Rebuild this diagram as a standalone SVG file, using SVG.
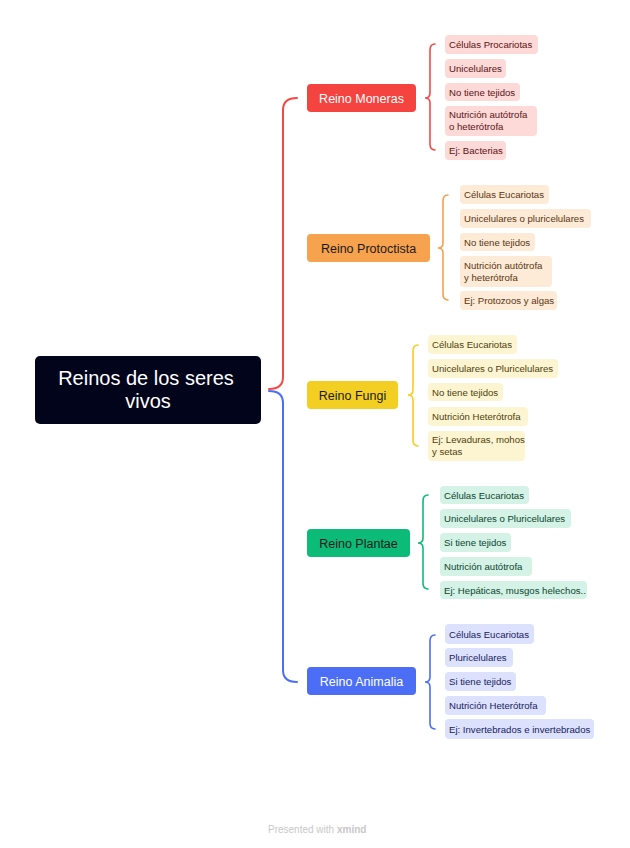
<svg xmlns="http://www.w3.org/2000/svg" width="630" height="848" viewBox="0 0 630 848">
<style>
text{font-family:"Liberation Sans",Arial,sans-serif}
.root{fill:#fff;font-size:20px;text-anchor:middle}
.main{font-size:12.5px;text-anchor:middle}
.leaf{font-size:9.6px}
.br{fill:none;stroke-width:1.6;stroke-linecap:round}
.m .lf{fill:#FDD9D8}.m text.leaf{fill:#5A1414}
.p .lf{fill:#FDEBD8}.p text.leaf{fill:#5A3510}
.f .lf{fill:#FDF5D2}.f text.leaf{fill:#4D410C}
.g .lf{fill:#D4F2E5}.g text.leaf{fill:#0C4530}
.a .lf{fill:#DCE2FD}.a text.leaf{fill:#18215E}
</style>
<rect width="630" height="848" fill="#fff"/>
<g id="connectors" fill="none" stroke-width="2" stroke-linecap="round">
<path d="M269,389 Q283,389 283,377 L283,110 Q283,98 297,98" stroke="#F44A45"/>
<path d="M269,391 Q283,391 283,403 L283,670 Q283,682 297,682" stroke="#4C6EF6"/>
<path class="br" stroke="#F44A45" d="M435,44 Q430,44 430,50 L430,93 Q430,98 425,98 Q430,98 430,103 L430,144 Q430,150 435,150"/>
<path class="br" stroke="#F5A04C" d="M448,195 Q443,195 443,201 L443,243 Q443,248 438,248 Q443,248 443,253 L443,294 Q443,300 448,300"/>
<path class="br" stroke="#F2CE22" d="M418,345 Q413,345 413,351 L413,390 Q413,395 408,395 Q413,395 413,400 L413,440 Q413,446 418,446"/>
<path class="br" stroke="#0DBB79" d="M428,495 Q423,495 423,501 L423,538 Q423,543 418,543 Q423,543 423,548 L423,583 Q423,589 428,589"/>
<path class="br" stroke="#4C6EF6" d="M435,635 Q430,635 430,641 L430,677 Q430,682 425,682 Q430,682 430,687 L430,723 Q430,729 435,729"/>
</g>
<g id="root">
<rect x="35" y="356" width="226" height="68" rx="5" fill="#02041C"/>
<text class="root" x="146" y="385">Reinos de los seres</text>
<text class="root" x="148" y="408">vivos</text>
</g>
<g id="moneras">
<rect x="307" y="84" width="109" height="28" rx="4" fill="#F5433F"/>
<text class="main" x="361.5" y="102.5" fill="#fff">Reino Moneras</text>
</g>
<g id="protoctista">
<rect x="307" y="234" width="123" height="28" rx="4" fill="#F7A24E"/>
<text class="main" x="368.5" y="252.5" fill="#1a1a1a">Reino Protoctista</text>
</g>
<g id="fungi">
<rect x="307" y="381" width="91" height="28" rx="4" fill="#F2CF22"/>
<text class="main" x="352.5" y="399.5" fill="#1a1a1a">Reino Fungi</text>
</g>
<g id="plantae">
<rect x="307" y="529" width="103" height="28" rx="4" fill="#0DBB79"/>
<text class="main" x="358.5" y="547.5" fill="#1a1a1a">Reino Plantae</text>
</g>
<g id="animalia">
<rect x="307" y="667" width="109" height="28" rx="4" fill="#4C6EF6"/>
<text class="main" x="361.5" y="685.5" fill="#fff">Reino Animalia</text>
</g>
<g id="moneras-leaves" class="m">
<g id="m1"><rect class="lf" x="445" y="35" width="93" height="19" rx="4"/><text class="leaf" x="449" y="48">Células Procariotas</text></g>
<g id="m2"><rect class="lf" x="445" y="59" width="61" height="19" rx="4"/><text class="leaf" x="449" y="72">Unicelulares</text></g>
<g id="m3"><rect class="lf" x="445" y="83" width="75" height="18" rx="4"/><text class="leaf" x="449" y="96">No tiene tejidos</text></g>
<g id="m4"><rect class="lf" x="445" y="106" width="92" height="30" rx="4"/><text class="leaf" x="449" y="118">Nutrición autótrofa</text><text class="leaf" x="449" y="130">o heterótrofa</text></g>
<g id="m5"><rect class="lf" x="445" y="141" width="61" height="19" rx="4"/><text class="leaf" x="449" y="154">Ej: Bacterias</text></g>
</g>
<g id="protoctista-leaves" class="p">
<g id="p1"><rect class="lf" x="460" y="185" width="89" height="19" rx="4"/><text class="leaf" x="464" y="198">Células Eucariotas</text></g>
<g id="p2"><rect class="lf" x="460" y="209" width="131" height="19" rx="4"/><text class="leaf" x="464" y="222">Unicelulares o pluricelulares</text></g>
<g id="p3"><rect class="lf" x="460" y="233" width="75" height="18" rx="4"/><text class="leaf" x="464" y="246">No tiene tejidos</text></g>
<g id="p4"><rect class="lf" x="460" y="256" width="92" height="31" rx="4"/><text class="leaf" x="464" y="269">Nutrición autótrofa</text><text class="leaf" x="464" y="281">y heterótrofa</text></g>
<g id="p5"><rect class="lf" x="460" y="291" width="97" height="19" rx="4"/><text class="leaf" x="464" y="304">Ej: Protozoos y algas</text></g>
</g>
<g id="fungi-leaves" class="f">
<g id="f1"><rect class="lf" x="428" y="335" width="89" height="19" rx="4"/><text class="leaf" x="432" y="348">Células Eucariotas</text></g>
<g id="f2"><rect class="lf" x="428" y="359" width="130" height="19" rx="4"/><text class="leaf" x="432" y="372">Unicelulares o Pluricelulares</text></g>
<g id="f3"><rect class="lf" x="428" y="383" width="75" height="18" rx="4"/><text class="leaf" x="432" y="396">No tiene tejidos</text></g>
<g id="f4"><rect class="lf" x="428" y="407" width="100" height="19" rx="4"/><text class="leaf" x="432" y="420">Nutrición Heterótrofa</text></g>
<g id="f5"><rect class="lf" x="428" y="431" width="97" height="30" rx="4"/><text class="leaf" x="432" y="443">Ej: Levaduras, mohos</text><text class="leaf" x="432" y="455">y setas</text></g>
</g>
<g id="plantae-leaves" class="g">
<g id="g1"><rect class="lf" x="440" y="486" width="89" height="18" rx="4"/><text class="leaf" x="444" y="499">Células Eucariotas</text></g>
<g id="g2"><rect class="lf" x="440" y="509" width="131" height="19" rx="4"/><text class="leaf" x="444" y="522">Unicelulares o Pluricelulares</text></g>
<g id="g3"><rect class="lf" x="440" y="533" width="71" height="19" rx="4"/><text class="leaf" x="444" y="546">Si tiene tejidos</text></g>
<g id="g4"><rect class="lf" x="440" y="557" width="92" height="19" rx="4"/><text class="leaf" x="444" y="570">Nutrición autótrofa</text></g>
<g id="g5"><rect class="lf" x="440" y="581" width="147" height="18" rx="4"/><text class="leaf" x="444" y="594">Ej: Hepáticas, musgos helechos..</text></g>
</g>
<g id="animalia-leaves" class="a">
<g id="a1"><rect class="lf" x="445" y="624" width="89" height="20" rx="4"/><text class="leaf" x="449" y="637.5">Células Eucariotas</text></g>
<g id="a2"><rect class="lf" x="445" y="648" width="68" height="19" rx="4"/><text class="leaf" x="449" y="661">Pluricelulares</text></g>
<g id="a3"><rect class="lf" x="445" y="672" width="71" height="19" rx="4"/><text class="leaf" x="449" y="685">Si tiene tejidos</text></g>
<g id="a4"><rect class="lf" x="445" y="696" width="101" height="19" rx="4"/><text class="leaf" x="449" y="709">Nutrición Heterótrofa</text></g>
<g id="a5"><rect class="lf" x="445" y="719" width="149" height="20" rx="4"/><text class="leaf" x="449" y="732.5">Ej: Invertebrados e invertebrados</text></g>
</g>
<g id="footer">
<text x="268" y="833" font-size="10" fill="#C8C8C8">Presented with <tspan font-weight="bold">xmind</tspan></text>
</g>
</svg>
